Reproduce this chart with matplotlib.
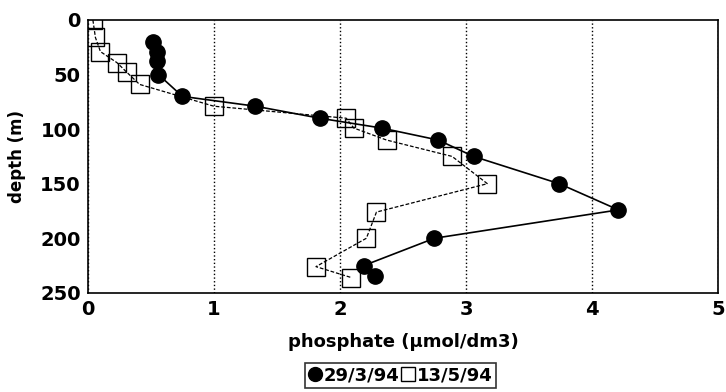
import matplotlib.pyplot as plt

plt.rcParams['font.family'] = ['DejaVu Sans']
plt.rcParams['font.weight'] = 'bold'

# 29/3/94 profile
mar_phos = [0.52, 0.55, 0.55, 0.56, 0.75, 1.33, 1.84, 2.33, 2.78, 3.06, 3.74, 4.21, 2.75, 2.19, 2.28]
mar_depth = [20, 29, 38, 50, 70, 79, 90, 99, 110, 125, 150, 174, 200, 225, 235]

# 13/5/94 profile
may_phos = [0.04, 0.06, 0.1, 0.23, 0.31, 0.41, 1.0, 2.05, 2.11, 2.37, 2.89, 3.17, 2.29, 2.21, 1.81, 2.09]
may_depth = [0, 16, 29, 39, 48, 59, 79, 90, 99, 110, 125, 150, 176, 200, 226, 236]

fig = plt.figure(figsize=(7.26, 3.92), dpi=100)
ax = fig.add_axes([0.121, 0.253, 0.868, 0.696])

ax.plot(mar_phos, mar_depth, color='black', lw=1.2, marker='o', ms=11,
        mfc='black', mec='black', label='29/3/94', zorder=3)
ax.plot(may_phos, may_depth, color='black', lw=0.9, ls=(0, (3, 1.5)), marker='s', ms=13,
        mfc='none', mec='black', mew=1.0, label='13/5/94', zorder=2)

ax.set_xlim(0, 5)
ax.set_ylim(250, 0)
ax.set_xticks([0, 1, 2, 3, 4, 5])
ax.set_yticks([0, 50, 100, 150, 200, 250])
ax.grid(axis='x', ls=':', color='black', lw=1.0)
ax.tick_params(length=0, labelsize=14, pad=5)
for lab in ax.get_xticklabels() + ax.get_yticklabels():
    lab.set_fontweight('bold')
for s in ax.spines.values():
    s.set_linewidth(1.2)

ax.set_xlabel('phosphate (\u00b5mol/dm3)', fontsize=13, fontweight='bold', labelpad=10)
ax.set_ylabel('depth (m)', fontsize=12, fontweight='bold', labelpad=10)

leg = fig.legend(loc='center', bbox_to_anchor=(0.552, 0.043), ncol=2,
                 frameon=True, fancybox=False, edgecolor='black',
                 handlelength=0.7, handletextpad=0.15, columnspacing=0.1,
                 borderpad=0.2, prop={'size': 13, 'weight': 'bold'})
leg.get_frame().set_linewidth(1.2)
for h in leg.legend_handles:
    h.set_linestyle('none')
    h.set_markersize(10)

fig.savefig('out.png', dpi=100)
